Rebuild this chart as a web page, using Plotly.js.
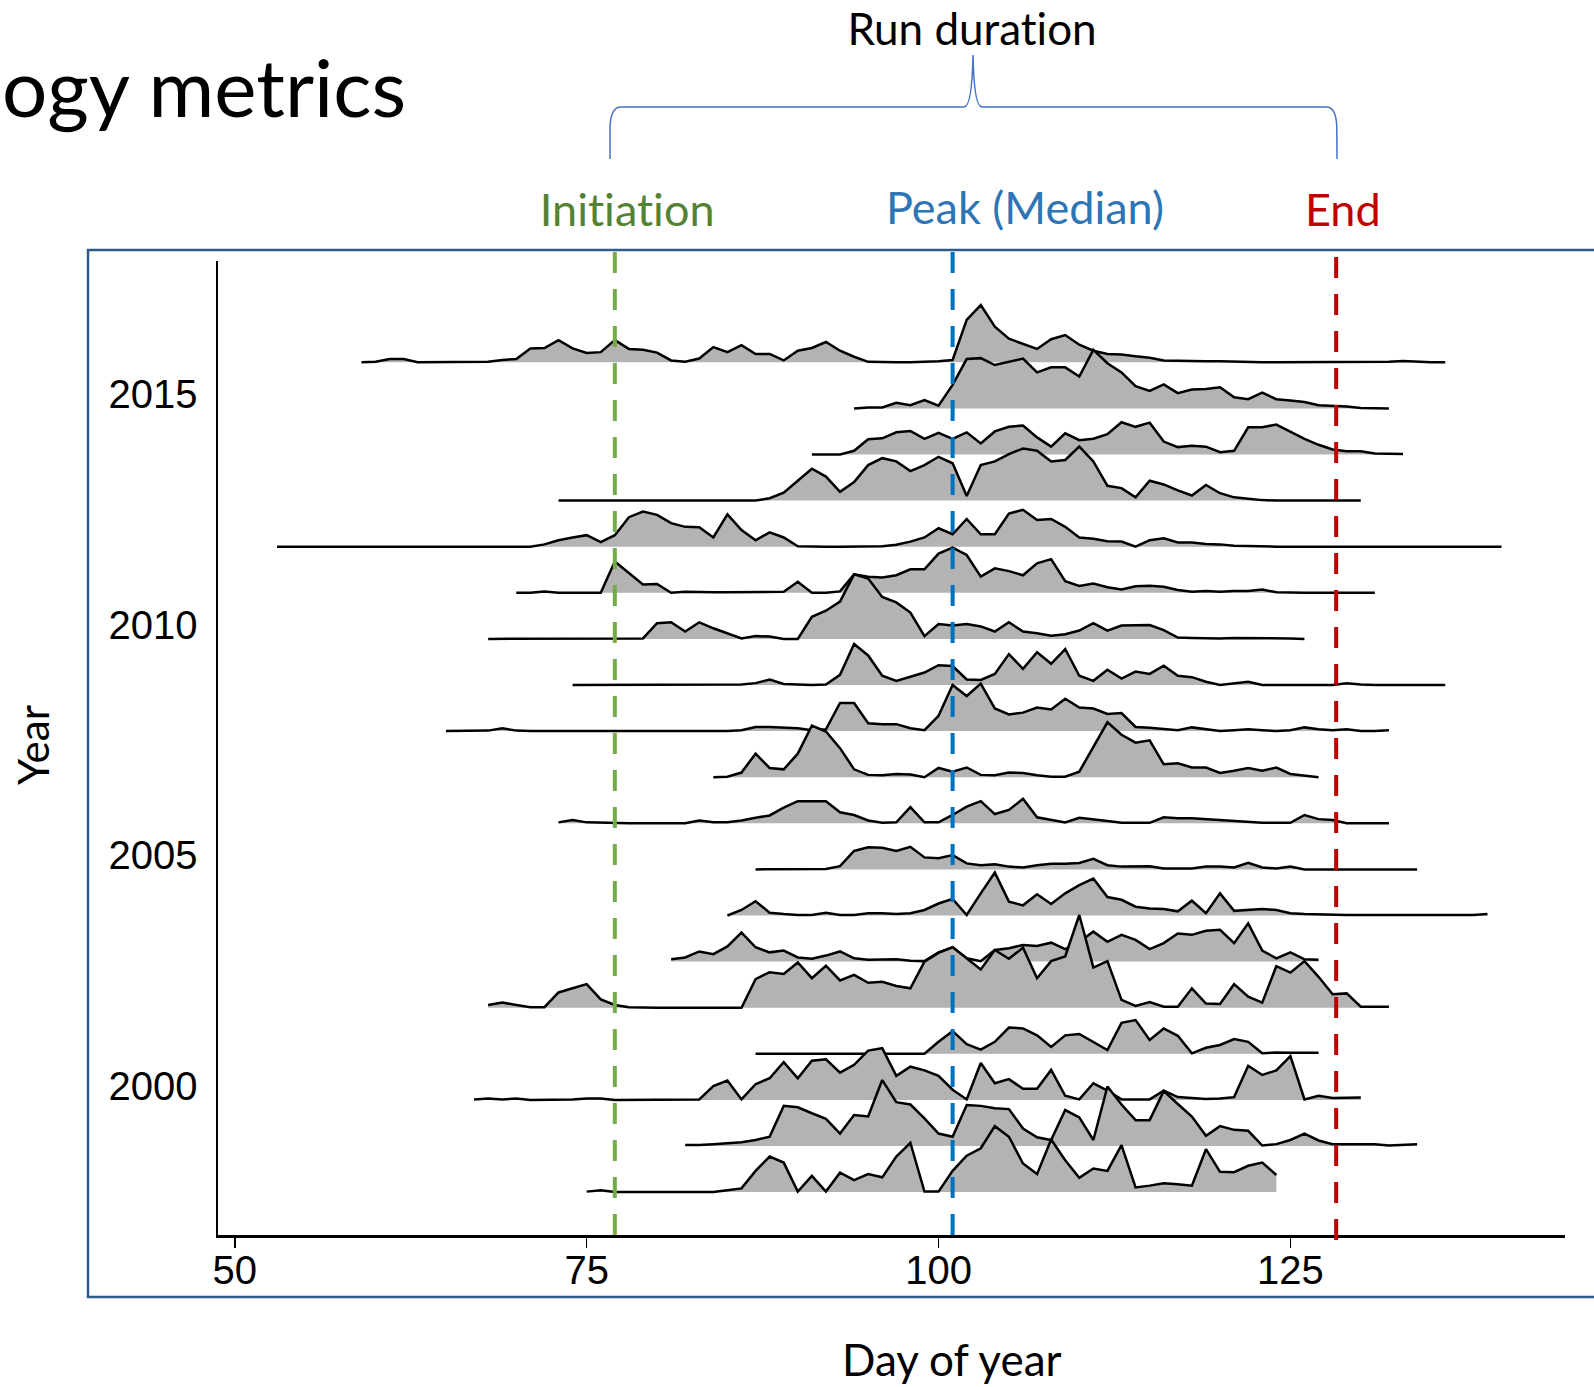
<!DOCTYPE html>
<html><head><meta charset="utf-8">
<script src="https://cdn.plot.ly/plotly-3.0.1.min.js"></script>
<style>html,body{margin:0;padding:0;background:#fff;}#chart{width:1594px;height:1387px;}
#chart svg text{font-variant-ligatures:none !important;font-feature-settings:"liga" 0,"clig" 0 !important;}</style>
</head><body><div id="chart"></div>
<script>
// ---------------- data ----------------
const years = [2016,2015,2014,2013,2012,2011,2010,2009,2008,2007,2006,2005,2004,2003,2002,2001,2000,1999,1998];
const startDays = [59,94,91,73,53,70,68,74,65,84,73,87,85,81,68,87,67,82,75];

// relative ridge heights (1 = one row spacing), one value per day from the start day
const h2016 = [0,0.01,0.07,0.07,0,0,0,0,0,0.01, 0.05,0.07,0.30,0.31,0.48,0.30,0.20,0.22,0.48,0.29, 0.27,0.21,0.04,0.01,0.08,0.33,0.22,0.37,0.18,0.18, 0.04,0.25,0.31,0.44,0.25,0.12,0.01,0,0,0, 0.01,0.02,0.05,0.92,1.24,0.77,0.51,0.40,0.29,0.50, 0.59,0.38,0.25,0.18,0.17,0.13,0.10,0.04,0.03,0.02, 0.02,0.02,0.01,0.01,0,0,0,0,0,0, 0,0,0,0.01,0.03,0.01,0,0];
const h2015 = [0,0.02,0.02,0.12,0.07,0.18,0.06,0.51,1.07,1.09, 0.94,1.01,1.08,0.78,0.89,0.89,0.69,1.27,0.98,0.78, 0.48,0.38,0.52,0.33,0.41,0.42,0.46,0.24,0.20,0.34, 0.20,0.17,0.14,0.07,0.06,0.04,0.01,0.01,0];
const h2014 = [0,0,0,0.08,0.33,0.35,0.48,0.51,0.34,0.47, 0.34,0.48,0.24,0.50,0.60,0.63,0.37,0.17,0.46,0.31, 0.34,0.44,0.70,0.60,0.69,0.28,0.16,0.19,0.17,0.05, 0.08,0.59,0.59,0.65,0.50,0.34,0.21,0.11,0.07,0.07, 0.02,0.02,0.01];
const h2013 = [0,0,0,0,0,0,0,0,0,0, 0,0,0,0,0,0.05,0.17,0.43,0.69,0.52, 0.19,0.40,0.77,0.92,0.85,0.64,0.77,0.95,0.81,0.10, 0.77,0.85,1.01,1.13,1.08,0.85,0.88,1.17,0.85,0.32, 0.27,0.07,0.43,0.35,0.22,0.11,0.34,0.16,0.07,0.04, 0.01,0,0,0,0,0,0,0];
const h2012 = [0,0,0,0,0,0,0.01,0,0,0, 0,0,0,0,0,0,0,0,0,0.05, 0.14,0.20,0.25,0.10,0.25,0.64,0.76,0.69,0.51,0.43, 0.42,0.20,0.70,0.36,0.14,0.31,0.20,0.01,0,0, 0,0,0,0.01,0.04,0.11,0.20,0.40,0.27,0.60, 0.27,0.27,0.72,0.80,0.58,0.60,0.43,0.20,0.17,0.12, 0.11,0,0.14,0.18,0.09,0.09,0.06,0.05,0.02,0.01, 0,0,0,0,0,0,0,0,0,0, 0,0,0,0,0,0,0,0];
const h2011 = [0,0,0.03,0,0,0,0,0.68,0.42,0.18, 0.19,0,0.02,0.01,0.01,0.01,0.01,0.01,0.01,0.02, 0.24,0,0,0.03,0.40,0.35,0.33,0.38,0.51,0.51, 0.85,0.98,0.82,0.35,0.53,0.47,0.38,0.64,0.73,0.25, 0.15,0.20,0.12,0.07,0.14,0.15,0.13,0.06,0.02,0.04, 0.02,0.04,0.04,0.07,0.01,0,0,0,0,0, 0,0];
const h2010 = [0,0,0,0,0,0,0,0,0,0, 0,0.01,0.34,0.36,0.16,0.36,0.23,0.12,0.01,0.06, 0.05,0,0,0.48,0.61,0.81,1.40,1.31,0.91,0.79, 0.57,0.06,0.32,0.29,0.32,0.27,0.16,0.36,0.16,0.12, 0.07,0.10,0.18,0.34,0.18,0.29,0.30,0.30,0.19,0.03, 0.02,0.01,0.01,0.02,0.02,0.01,0.01,0.01,0];
const h2009 = [0,0,0,0,0,0,0,0,0,0, 0,0,0.01,0.04,0.12,0.02,0.01,0,0.01,0.22, 0.89,0.64,0.20,0.09,0.18,0.27,0.43,0.41,0.12,0.11, 0.24,0.67,0.35,0.71,0.46,0.78,0.20,0.09,0.33,0.14, 0.29,0.24,0.42,0.20,0.17,0.07,0,0.04,0.07,0, 0,0,0,0,0,0.04,0.01,0,0,0, 0,0,0];
const h2008 = [0,0,0,0.01,0.06,0.01,0,0,0,0, 0,0,0,0,0,0,0,0,0,0, 0,0.02,0.09,0.09,0.08,0.06,0.02,0.04,0.61,0.61, 0.17,0.15,0.15,0.06,0.02,0.33,1.00,0.76,1.03,0.49, 0.36,0.40,0.51,0.47,0.70,0.51,0.49,0.37,0.39,0.09, 0.07,0.05,0.02,0.08,0.04,0,0.02,0.04,0.02,0, 0.02,0.08,0.04,0.02,0.04,0,0,0.02];
const h2007 = [0,0.01,0.10,0.51,0.20,0.17,0.51,1.12,0.99,0.63, 0.17,0.05,0.04,0.07,0.06,0,0.20,0.12,0.21,0.05, 0.04,0.10,0.09,0.04,0.01,0.01,0.12,0.65,1.19,0.92, 0.75,0.80,0.28,0.30,0.21,0.21,0.09,0.14,0.20,0.14, 0.21,0.07,0.03,0];
const h2006 = [0.02,0.07,0.02,0.01,0,0,0,0,0,0, 0.06,0.02,0.02,0.06,0.12,0.17,0.34,0.48,0.48,0.48, 0.24,0.18,0.06,0.01,0.02,0.35,0.02,0.02,0.18,0.36, 0.48,0.20,0.29,0.53,0.13,0.07,0.02,0.12,0.09,0.05, 0.01,0.01,0.01,0.13,0.11,0.11,0.09,0.06,0.04,0.03, 0.01,0.01,0.01,0.18,0.09,0.07,0,0,0,0];
const h2005 = [0,0,0,0,0,0.01,0.07,0.40,0.48,0.47, 0.40,0.49,0.26,0.24,0.31,0.13,0.09,0.11,0.06,0.04, 0.09,0.12,0.12,0.14,0.23,0.09,0.06,0.06,0.07,0.02, 0.02,0.02,0.06,0.06,0.04,0.14,0.04,0.02,0.06,0, 0,0,0,0,0,0,0,0];
const h2004 = [0,0.12,0.31,0.06,0.03,0.01,0.01,0.06,0.01,0.01, 0.05,0.05,0.03,0.05,0.12,0.26,0.36,0.01,0.48,0.93, 0.30,0.22,0.46,0.25,0.48,0.66,0.80,0.40,0.34,0.19, 0.15,0.14,0.09,0.32,0.05,0.48,0.10,0.12,0.14,0.12, 0.05,0.03,0.02,0.01,0.01,0.01,0.01,0.01,0.01,0.01, 0.01,0.01,0.01,0.01,0.03];
const h2003 = [0.05,0.09,0.22,0.16,0.33,0.63,0.31,0.20,0.24,0.09, 0.06,0.13,0.22,0.07,0.04,0.04,0.05,0.02,0.01,0.20, 0.31,0.07,0.01,0.25,0.29,0.36,0.34,0.41,0.27,0.43, 0.65,0.43,0.58,0.47,0.27,0.40,0.61,0.58,0.67,0.69, 0.40,0.83,0.24,0.07,0.20,0.05,0.04];
const h2002 = [0.06,0.11,0.06,0.01,0.01,0.33,0.42,0.51,0.18,0.06, 0.01,0,0,0,0,0,0,0,0,0.62, 0.77,0.73,0.98,0.64,0.91,0.59,0.71,0.54,0.56,0.47, 0.42,1.00,1.19,1.31,1.07,0.83,1.25,1.06,1.30,0.64, 1.01,1.11,2.01,0.87,1.01,0.17,0.04,0.12,0.02,0.02, 0.42,0.09,0.08,0.51,0.24,0.11,0.90,0.76,1.01,0.67, 0.29,0.31,0.02,0.02,0.02];
const h2001 = [0,0,0,0,0,0,0,0,0,0, 0,0,0,0.26,0.49,0.21,0.09,0.26,0.57,0.55, 0.40,0.15,0.40,0.43,0.26,0.08,0.67,0.73,0.30,0.55, 0.39,0.01,0.13,0.19,0.32,0.26,0.01,0.03,0.02,0.02, 0.02];
const h2000 = [0.01,0.03,0.01,0.03,0,0,0,0.01,0.03,0.03, 0,0,0,0,0,0,0.01,0.30,0.42,0.01, 0.34,0.47,0.82,0.47,0.85,0.88,0.59,0.76,1.07,1.12, 0.52,0.72,0.64,0.52,0.22,0.01,0.80,0.36,0.45,0.24, 0.24,0.65,0.09,0.01,0.36,0.20,0.01,0.01,0.01,0.20, 0.06,0.04,0.02,0.03,0.06,0.74,0.54,0.64,0.95,0.01, 0.09,0.04,0.05,0.05];
const h1999 = [0.02,0.02,0.04,0.06,0.08,0.13,0.20,0.87,0.84,0.71, 0.59,0.27,0.67,0.64,1.43,0.95,0.90,0.60,0.27,0.20, 0.89,0.87,0.82,0.80,0.38,0.19,0.13,0.78,0.62,0.13, 1.29,0.90,0.56,0.56,1.19,0.91,0.64,0.22,0.43,0.35, 0.33,0.01,0.04,0.13,0.27,0.12,0.04,0.04,0.04,0.04, 0.01,0.02,0.04];
const h1998 = [0.01,0.04,0,0,0,0,0,0,0,0, 0.04,0.08,0.46,0.77,0.64,0.01,0.35,0.01,0.42,0.26, 0.39,0.32,0.77,1.07,0.01,0.01,0.46,0.79,0.95,1.43, 1.20,0.62,0.39,1.14,0.69,0.31,0.51,0.46,1.02,0.10, 0.14,0.19,0.17,0.14,0.93,0.44,0.43,0.57,0.64,0.37];

const heightRows = [h2016,h2015,h2014,h2013,h2012,h2011,h2010,h2009,h2008,h2007,h2006,h2005,h2004,h2003,h2002,h2001,h2000,h1999,h1998];

const yearTicks = [2000,2005,2010,2015];
const dayTicks = [50,75,100,125];
const metricDays = [77,101,128.25];
const metricLabels = ['Initiation','Peak (Median)','End'];

// ---------------- layout helpers ----------------
const W = 1594, H = 1387, ML = 218, MR = 29, MT = 261, MB = 152;
const PW = W - ML - MR, PH = H - MT - MB;
const px = x => (x - ML) / PW;          // pixel x -> paper
const py = y => (H - MB - y) / PH;      // pixel y -> paper

const traces = [];
years.forEach((yr, i) => {
  const hs = heightRows[i];
  const s = startDays[i];
  const xs = hs.map((_, k) => s + k);
  const ys = hs.map(v => yr + v);
  traces.push({
    x: xs.concat([xs[xs.length - 1], xs[0]]),
    y: ys.concat([yr, yr]),
    mode: 'lines', fill: 'toself', fillcolor: '#b3b3b3',
    line: {width: 0}, hoverinfo: 'skip', showlegend: false
  });
  traces.push({
    x: xs, y: ys, mode: 'lines',
    line: {color: '#000000', width: 2.5, shape: 'linear'},
    hoverinfo: 'skip', showlegend: false
  });
});

const lineColors = ['#70ad47', '#0070c0', '#c00000'];
const textColors = ['#548235', '#2e75b6', '#c00000'];
const lineTops = [252, 252, 257];

const shapes = metricDays.map((d, i) => ({
  type: 'line', xref: 'x', yref: 'paper', x0: d, x1: d,
  y0: py(lineTops[i]), y1: py(1244),
  line: {color: lineColors[i], width: 4, dash: '21px,16px'}, layer: 'above'
}));

// outer frame
shapes.push({
  type: 'rect', xref: 'paper', yref: 'paper',
  x0: px(88), x1: px(1620), y0: py(1297), y1: py(250),
  line: {color: '#2f5a8c', width: 2.5}, fillcolor: 'rgba(0,0,0,0)', layer: 'above'
});

// curly brace over the run duration
const P = (x, y) => px(x).toFixed(5) + ',' + py(y).toFixed(5);
const bracePath = 'M' + P(610,159) + ' L' + P(610,128) + ' Q' + P(610.5,107) + ' ' + P(621,107) +
  ' L' + P(964,107) + ' Q' + P(972,107) + ' ' + P(973,55) +
  ' Q' + P(974,107) + ' ' + P(982,107) +
  ' L' + P(1326,107) + ' Q' + P(1336.5,107) + ' ' + P(1336.8,128) + ' L' + P(1337,159);
shapes.push({type: 'path', xref: 'paper', yref: 'paper', path: bracePath,
  line: {color: '#4472c4', width: 1.5}, layer: 'above'});

const calib = 'Lato, "Open Sans", sans-serif';
const annotations = [
  {text: 'ogy metrics', x: px(0), y: py(86), xanchor: 'left', yanchor: 'middle',
   font: {family: calib, size: 80, color: '#000'}},
  {text: 'Run duration', x: px(971.6), y: py(28), xanchor: 'center', yanchor: 'middle',
   font: {family: calib, size: 44, color: '#000'}},
  {text: metricLabels[0], x: px(627), y: py(209), xanchor: 'center', yanchor: 'middle',
   font: {family: calib, size: 45, color: textColors[0]}},
  {text: metricLabels[1], x: px(1025), y: py(207), xanchor: 'center', yanchor: 'middle',
   font: {family: calib, size: 45, color: textColors[1]}},
  {text: metricLabels[2], x: px(1343), y: py(209), xanchor: 'center', yanchor: 'middle',
   font: {family: calib, size: 45, color: textColors[2]}},
  {text: 'Day of year', x: px(951.5), y: py(1359), xanchor: 'center', yanchor: 'middle',
   font: {family: calib, size: 44, color: '#000'}},
  {text: 'Year', x: px(33), y: py(745), xanchor: 'center', yanchor: 'middle', textangle: -90,
   font: {family: calib, size: 42, color: '#000'}}
].map(a => Object.assign({xref: 'paper', yref: 'paper', showarrow: false}, a));

const tickFont = {family: '"Liberation Sans", Arial, sans-serif', size: 40, color: '#000'};

const layout = {
  width: W, height: H,
  margin: {l: ML, r: MR, t: MT, b: MB, pad: 0},
  paper_bgcolor: '#ffffff', plot_bgcolor: 'rgba(0,0,0,0)',
  showlegend: false,
  xaxis: {
    range: [48.806, 144.51], tickvals: dayTicks, ticktext: dayTicks.map(String),
    showline: true, linecolor: '#000', linewidth: 2.5,
    ticks: 'outside', ticklen: 10, tickwidth: 1.5, tickcolor: '#000',
    showgrid: false, zeroline: false, tickfont: tickFont,
    ticklabelstandoff: -12
  },
  yaxis: {
    range: [1997.069, 2018.197], tickvals: yearTicks, ticktext: yearTicks.map(String),
    showline: true, linecolor: '#000', linewidth: 2.5,
    ticks: '', showgrid: false, zeroline: false, tickfont: tickFont,
    ticklabelshift: -14, ticklabelstandoff: 10
  },
  shapes: shapes,
  annotations: annotations
};

Plotly.newPlot('chart', traces, layout, {displayModeBar: false, staticPlot: true});
</script>
</body></html>
